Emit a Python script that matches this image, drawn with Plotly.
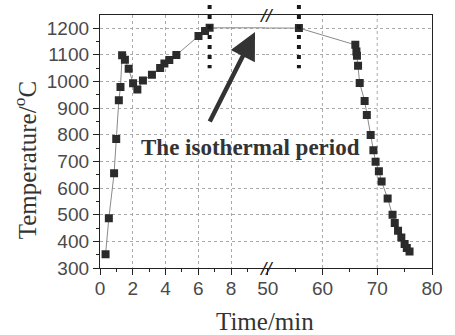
import plotly.graph_objects as go

# ---- data ----
time_min = [0.34, 0.54, 0.86, 0.99, 1.15, 1.25, 1.35, 1.52, 1.75, 2.02, 2.28, 2.62,
            3.17, 3.67, 3.93, 4.23, 4.66, 6.01, 6.41, 6.69,
            55.7, 66.0, 66.2, 66.3, 66.5, 66.8, 67.7, 68.1, 68.8, 69.3, 69.7,
            70.3, 70.8, 71.9, 72.8, 73.2, 73.8, 74.4, 75.0, 75.4, 75.9]
temperature = [352, 487, 655, 784, 929, 979, 1098, 1081, 1047, 993, 970, 1003,
               1025, 1050, 1067, 1080, 1099, 1170, 1189, 1201,
               1200, 1137, 1112, 1096, 1059, 994, 926, 874, 799, 742, 699,
               663, 624, 561, 500, 469, 440, 414, 390, 375, 362]

x1_ticks = [0, 2, 4, 6, 8]
x1_minor = [1, 3, 5, 7, 9]
x2_ticks = [50, 60, 70, 80]
x2_minor = [55, 65, 75]
x2_grid = [60, 70]
isothermal_marks = [6.69, 55.7]   # dotted markers at start/end of the isothermal period

D = 0.4985  # break position (paper)

tickfont = dict(family="Liberation Sans, Arial", size=19, color="#4a4a4a")
serif = "Liberation Serif, Times New Roman"

fig = go.Figure()
marker = dict(symbol="square", size=8, color="#2b2b2b")
line = dict(color="#8a8a8a", width=1)
fig.add_trace(go.Scatter(x=time_min, y=temperature, xaxis="x", yaxis="y",
                         mode="lines+markers", marker=marker, line=line, showlegend=False))
fig.add_trace(go.Scatter(x=time_min, y=temperature, xaxis="x2", yaxis="y2",
                         mode="lines+markers", marker=marker, line=line, showlegend=False))

axis_common = dict(showline=True, linecolor="#222", linewidth=1.3, ticks="outside",
                   ticklen=6, tickwidth=1.2, tickcolor="#222", tickfont=tickfont,
                   zeroline=False)

fig.update_layout(
    width=455, height=335,
    margin=dict(l=100, r=14, t=15, b=67),
    paper_bgcolor="white", plot_bgcolor="white",
    xaxis=dict(domain=[0, D], range=[0, 10.1], tickmode="array", tickvals=x1_ticks,
               anchor="y", mirror=True, showgrid=True, gridcolor="#aaa", griddash="dot",
               gridwidth=1, ticklabelstandoff=-3,
               minor=dict(tickmode="array", tickvals=x1_minor, ticks="outside",
                          ticklen=3, tickcolor="#222", showgrid=False),
               **axis_common),
    xaxis2=dict(domain=[D, 1], range=[49.6, 80], tickmode="array", tickvals=x2_ticks,
                anchor="y2", mirror=True, showgrid=False, ticklabelstandoff=-3,
                minor=dict(tickmode="array", tickvals=x2_minor, ticks="outside",
                           ticklen=3, tickcolor="#222", showgrid=False),
                **axis_common),
    yaxis=dict(range=[300, 1249], tickmode="linear", tick0=300, dtick=100,
               anchor="x", showgrid=True, gridcolor="#aaa", griddash="dot", gridwidth=1,
               minor=dict(dtick=50, ticks="outside", ticklen=3, tickcolor="#222",
                          showgrid=False),
               **axis_common),
    yaxis2=dict(range=[300, 1249], matches="y", anchor="x2", side="right",
                showticklabels=False, showline=True, linecolor="#222", linewidth=1.3,
                ticks="", tickmode="linear", tick0=300, dtick=100, zeroline=False,
                showgrid=True, gridcolor="#aaa", griddash="dot", gridwidth=1),
)

# vertical grid lines of the right segment
for g in x2_grid:
    fig.add_shape(type="line", xref="x2", yref="y2 domain", x0=g, x1=g, y0=0, y1=1,
                  line=dict(color="#aaa", width=1, dash="dot"), layer="below")

# thick dotted markers of the isothermal period
for xm, xr in zip(isothermal_marks, ["x", "x2"]):
    fig.add_shape(type="line", xref=xr, yref="paper", x0=xm, x1=xm, y0=1.04, y1=0.79,
                  line=dict(color="#1a1a1a", width=4, dash="4px,6px"))

# axis break marks
for yb in [1.0, 0.0]:
    fig.add_annotation(xref="paper", yref="paper", x=D, y=yb, text="<i>//</i>",
                       showarrow=False, font=dict(family="Liberation Sans", size=19, color="#222"),
                       xanchor="center", yanchor="middle")

# arrow
fig.add_annotation(xref="x", yref="y", x=9.46, y=1185, ax=-46, ay=91, text="",
                   showarrow=True, arrowhead=2, arrowsize=1.2, arrowwidth=4.5,
                   arrowcolor="#333", standoff=0)

fig.add_annotation(xref="paper", yref="paper", x=0.4545, y=0.478,
                   xanchor="center", yanchor="middle",
                   text="<b>The isothermal period</b>", showarrow=False,
                   font=dict(family=serif, size=23, color="#333"))

# axis titles
fig.add_annotation(xref="paper", yref="paper", x=-0.225, y=0.427, textangle=-90,
                   xanchor="center", yanchor="middle",
                   text="Temperature/<sup>o</sup>C", showarrow=False,
                   font=dict(family=serif, size=25, color="#333"))
fig.add_annotation(xref="paper", yref="paper", x=0.497, y=-0.21,
                   xanchor="center", yanchor="middle",
                   text="Time/min", showarrow=False,
                   font=dict(family=serif, size=25, color="#333"))

fig.write_html("out.html")
